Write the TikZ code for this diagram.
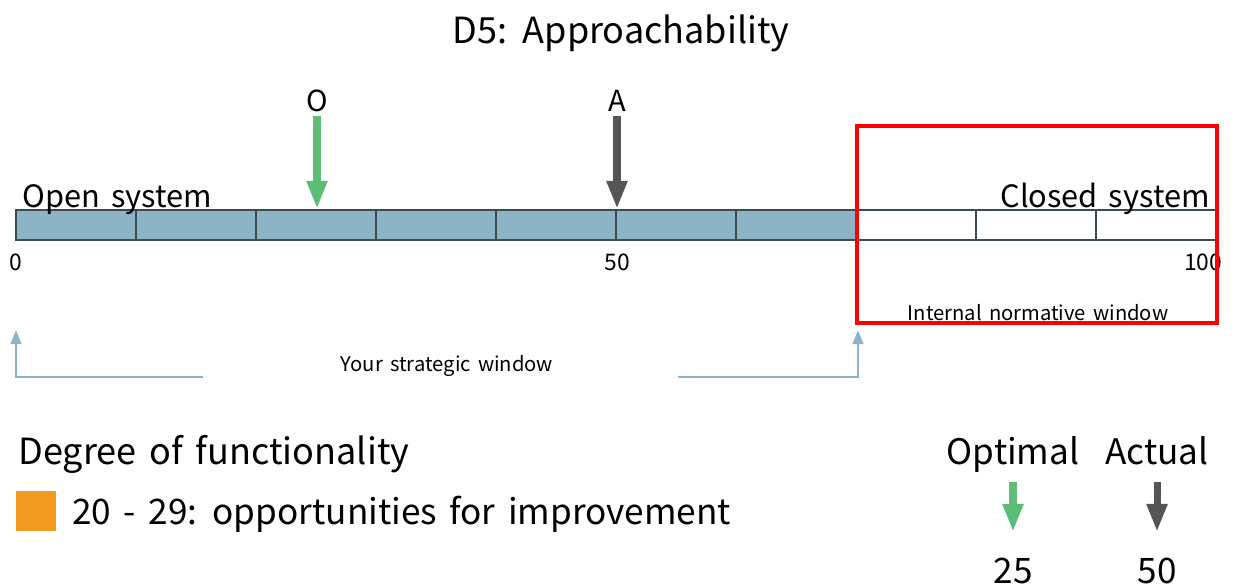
\documentclass[tikz,border=0pt]{standalone}
\usepackage{fontspec}
\setmainfont[WordSpace=1.6]{Noto Sans CJK JP}
\usetikzlibrary{arrows.meta}
\definecolor{barblue}{HTML}{8DB3C7}
\definecolor{bargray}{HTML}{3C4A52}
\definecolor{optgreen}{HTML}{5BBD76}
\definecolor{actgray}{HTML}{555555}
\definecolor{lvlorange}{HTML}{F39A21}
\tikzset{
  mark arrow/.style={line width=4pt,-{Triangle[width=11pt,length=16pt]}},
  win arrow/.style={line width=1.6pt,barblue,-{Triangle[width=6pt,length=8pt]}},
}
\begin{document}
\begin{tikzpicture}[x=0.02cm,y=-0.02cm]
\useasboundingbox (0,0) rectangle (1237,588);
\node (title) at (621,33) {\fontsize{20.5}{24}\selectfont D5: Approachability};
% bar
\foreach \i in {0,...,9}{
  \ifnum\i<7
    \draw[bargray,line width=1.3pt,fill=barblue] (16+120*\i,210) rectangle (136+120*\i,240);
  \else
    \draw[bargray,line width=1.3pt,fill=white] (16+120*\i,210) rectangle (136+120*\i,240);
  \fi
}
\node[anchor=base west,inner sep=0] (open) at (22,207) {\fontsize{17.5}{20}\selectfont Open system};
\node[anchor=base east,inner sep=0] (closed) at (1210,207) {\fontsize{17.5}{20}\selectfont Closed system};
\node (n0) at (16,262) {\fontsize{13}{16}\selectfont 0};
\node (n50) at (617,262) {\fontsize{13}{16}\selectfont 50};
\node (n100) at (1203,262) {\fontsize{13}{16}\selectfont 100};
% markers
\node (O) at (317,101) {\fontsize{16.5}{20}\selectfont O};
\node (A) at (617,101) {\fontsize{16.5}{20}\selectfont A};
\coordinate (Otip) at (317,209);
\coordinate (Atip) at (617,209);
\draw[mark arrow,optgreen] (O.south) ++(0,-2) -- (Otip);
\draw[mark arrow,actgray] (A.south) ++(0,-2) -- (Atip);
% internal window
\draw[red,line width=2.3pt] (857,126) rectangle (1217,323);
\node (internal) at (1038,313) {\fontsize{11.5}{13}\selectfont Internal normative window};
% strategic window
\node (strategic) at (447,366) {\fontsize{11.5}{13}\selectfont Your strategic window};
\coordinate (sl) at (203,377);
\coordinate (sr) at (678,377);
\draw[win arrow] (sl) -- (16,377) -- (16,330);
\draw[win arrow] (sr) -- (858,377) -- (858,330);
% legend
\node[anchor=base west,inner sep=0] (degree) at (18,464) {\fontsize{20.5}{24}\selectfont Degree of functionality};
\node[fill=lvlorange,minimum size=0.8cm,inner sep=0] (level) at (36,511) {};
\node[anchor=west,inner sep=0] (levtext) at (72,514) {\fontsize{20}{24}\selectfont 20 - 29: opportunities for improvement};
\node[anchor=base] (optimal) at (1013,464) {\fontsize{20}{24}\selectfont Optimal};
\node[anchor=base] (actual) at (1157,464) {\fontsize{20}{24}\selectfont Actual};
\node (v25) at (1013,571) {\fontsize{20}{24}\selectfont 25};
\node (v50) at (1157,571) {\fontsize{20}{24}\selectfont 50};
\draw[optgreen,line width=4pt,-{Triangle[width=11pt,length=16pt]}] (1013,482) -- (1013,532);
\draw[actgray,line width=4pt,-{Triangle[width=11pt,length=16pt]}] (1157,482) -- (1157,532);
\end{tikzpicture}
\end{document}
